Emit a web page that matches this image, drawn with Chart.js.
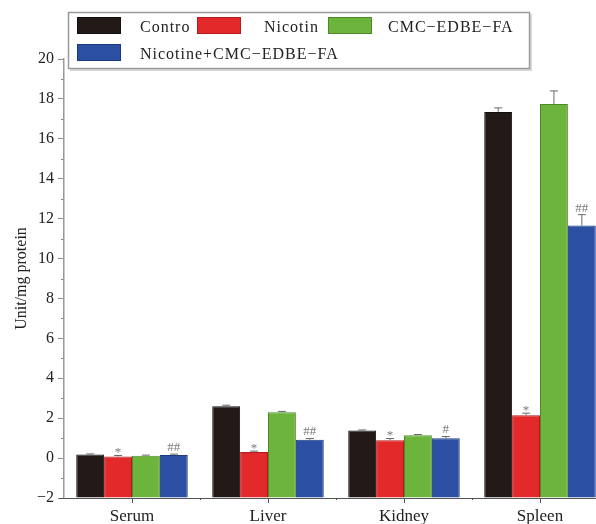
<!DOCTYPE html>
<html>
<head>
<meta charset="utf-8">
<script src="https://cdn.jsdelivr.net/npm/chart.js@4/dist/chart.umd.min.js"></script>
<style>
  html, body { margin: 0; padding: 0; background: #fff; overflow: hidden; }
  #wrap { position: relative; width: 610px; height: 524px; }
</style>
</head>
<body>
<div id="wrap"><canvas id="chart"></canvas></div>
<script>
// Tissue groups along the x axis
const categories = ['Serum', 'Liver', 'Kidney', 'Spleen'];

// Group means (Unit/mg protein)
const control   = [0.18, 2.6, 1.38, 17.35];
const nicotine  = [0.08, 0.3, 0.9, 2.15];
const cmc       = [0.12, 2.3, 1.15, 17.75];
const combo     = [0.15, 0.92, 1.0, 11.65];

// Standard deviations
const controlErr  = [0.03, 0.05, 0.03, 0.2];
const nicotineErr = [0.05, 0.05, 0.08, 0.1];
const cmcErr      = [0.03, 0.04, 0.03, 0.65];
const comboErr    = [0.05, 0.06, 0.08, 0.55];

// Significance marks
const nicotineMarks = ['*', '*', '*', '*'];
const comboMarks    = ['##', '##', '#', '##'];

// Axis ticks
const yMajorTicks = [-2, 0, 2, 4, 6, 8, 10, 12, 14, 16, 18, 20];
const yMinorTicks = [-1, 1, 3, 5, 7, 9, 11, 13, 15, 17, 19];

const seriesNames = ['Contro', 'Nicotin', 'CMC\u2212EDBE\u2212FA', 'Nicotine+CMC\u2212EDBE\u2212FA'];
const SERIF = '"Liberation Serif", "DejaVu Serif", serif';

const errors = [controlErr, nicotineErr, cmcErr, comboErr];
const marks = [null, nicotineMarks, null, comboMarks];

// Error bars and significance marks drawn on top of the bars
const errorBarPlugin = {
  id: 'errorBars',
  afterDatasetsDraw(chart) {
    const ctx = chart.ctx;
    const y = chart.scales.y;
    ctx.save();
    chart.data.datasets.forEach((ds, d) => {
      const meta = chart.getDatasetMeta(d);
      meta.data.forEach((bar, i) => {
        const v = ds.data[i];
        const top = y.getPixelForValue(v + errors[d][i]);
        ctx.strokeStyle = '#6a6a6a';
        ctx.lineWidth = 1;
        ctx.beginPath();
        ctx.moveTo(bar.x, bar.y);
        ctx.lineTo(bar.x, top);
        ctx.moveTo(bar.x - 4, top);
        ctx.lineTo(bar.x + 4, top);
        ctx.stroke();
        if (marks[d]) {
          ctx.fillStyle = '#7a7a7a';
          ctx.font = '13px ' + SERIF;
          ctx.textAlign = 'center';
          ctx.textBaseline = 'bottom';
          ctx.fillText(marks[d][i], bar.x, top + (marks[d][i] === '*' ? 4 : 0));
        }
      });
    });
    ctx.restore();
  }
};

// Minor ticks on the value axis and centre ticks on the category axis
const axisTicksPlugin = {
  id: 'axisTicks',
  afterDraw(chart) {
    const ctx = chart.ctx;
    const y = chart.scales.y;
    const x = chart.scales.x;
    const area = chart.chartArea;
    ctx.save();
    ctx.strokeStyle = '#8a8a8a';
    ctx.lineWidth = 1;
    ctx.beginPath();
    yMinorTicks.forEach(t => {
      const py = Math.round(y.getPixelForValue(t)) + 0.5;
      ctx.moveTo(area.left - 3, py);
      ctx.lineTo(area.left, py);
    });
    ctx.stroke();
    ctx.strokeStyle = '#555';
    ctx.beginPath();
    categories.forEach((c, i) => {
      const px = Math.round(x.getPixelForValue(i)) + 0.5;
      ctx.moveTo(px, area.bottom);
      ctx.lineTo(px, area.bottom + 5);
      if (i > 0) {
        const bx = Math.round((x.getPixelForValue(i) + x.getPixelForValue(i - 1)) / 2) + 0.5;
        ctx.moveTo(bx, area.bottom);
        ctx.lineTo(bx, area.bottom + 2);
      }
    });
    ctx.moveTo(area.left - 5, area.bottom + 0.5);
    ctx.lineTo(area.left, area.bottom + 0.5);
    ctx.stroke();
    ctx.restore();
  }
};

// Boxed legend laid out in two rows
const boxLegendPlugin = {
  id: 'boxLegend',
  afterDraw(chart) {
    const ctx = chart.ctx;
    const ds = chart.data.datasets;
    ctx.save();
    ctx.fillStyle = '#d8d8d8';
    ctx.fillRect(70, 14, 462, 57);
    ctx.fillStyle = '#fff';
    ctx.fillRect(68, 12, 462, 57);
    ctx.strokeStyle = '#9a9a9a';
    ctx.lineWidth = 1.5;
    ctx.strokeRect(68.5, 12.5, 461, 56);
    const items = [
      { sx: 77, sy: 17, tx: 140, ty: 32 },
      { sx: 197, sy: 17, tx: 264, ty: 32 },
      { sx: 328, sy: 17, tx: 388, ty: 32 },
      { sx: 77, sy: 44, tx: 140, ty: 59 }
    ];
    items.forEach((it, i) => {
      ctx.fillStyle = ds[i].backgroundColor;
      ctx.fillRect(it.sx, it.sy, 44, 17);
      ctx.strokeStyle = ds[i].borderColor;
      ctx.lineWidth = 1;
      ctx.strokeRect(it.sx + 0.5, it.sy + 0.5, 43, 16);
      ctx.fillStyle = '#222';
      ctx.font = '16px ' + SERIF;
      ctx.letterSpacing = '1px';
      ctx.textAlign = 'left';
      ctx.textBaseline = 'alphabetic';
      ctx.fillText(ds[i].label, it.tx, it.ty);
    });
    ctx.restore();
  }
};

new Chart(document.getElementById('chart'), {
  type: 'bar',
  data: {
    labels: categories,
    datasets: [
      { label: seriesNames[0], data: control,  backgroundColor: '#231a17', borderColor: '#111', borderWidth: 1, base: -2 },
      { label: seriesNames[1], data: nicotine, backgroundColor: '#e3292a', borderColor: '#b01c1c', borderWidth: 1, base: -2 },
      { label: seriesNames[2], data: cmc,      backgroundColor: '#6db43c', borderColor: '#4e8a2a', borderWidth: 1, base: -2 },
      { label: seriesNames[3], data: combo,    backgroundColor: '#2b50a3', borderColor: '#1d3a7e', borderWidth: 1, base: -2 }
    ]
  },
  options: {
    responsive: true,
    maintainAspectRatio: false,
    animation: false,
    categoryPercentage: 0.82,
    barPercentage: 1.0,
    layout: { padding: { top: 59, right: 2, left: 0, bottom: 0 } },
    plugins: {
      legend: { display: false },
      tooltip: { enabled: false }
    },
    scales: {
      x: {
        offset: true,
        grid: { display: false },
        border: { display: true, color: '#555', width: 1 },
        ticks: { color: '#222', font: { family: SERIF, size: 17 }, padding: 0 },
        afterFit(scale) { scale.height = 26; }
      },
      y: {
        min: -2,
        max: 20,
        afterBuildTicks(scale) { scale.ticks = yMajorTicks.map(v => ({ value: v })); },
        ticks: {
          color: '#222',
          font: { family: SERIF, size: 16 },
          padding: 4,
          callback: v => (v < 0 ? '\u2212' + Math.abs(v) : String(v))
        },
        grid: { drawOnChartArea: false, drawTicks: true, tickLength: 6, color: '#8a8a8a' },
        border: { display: true, color: '#9a9a9a', width: 1.5 },
        title: { display: true, text: 'Unit/mg protein', color: '#222', font: { family: SERIF, size: 16 }, padding: { top: 12, bottom: 0 } },
        afterFit(scale) { scale.width = 64; }
      }
    }
  },
  plugins: [errorBarPlugin, axisTicksPlugin, boxLegendPlugin]
});
</script>
</body>
</html>
